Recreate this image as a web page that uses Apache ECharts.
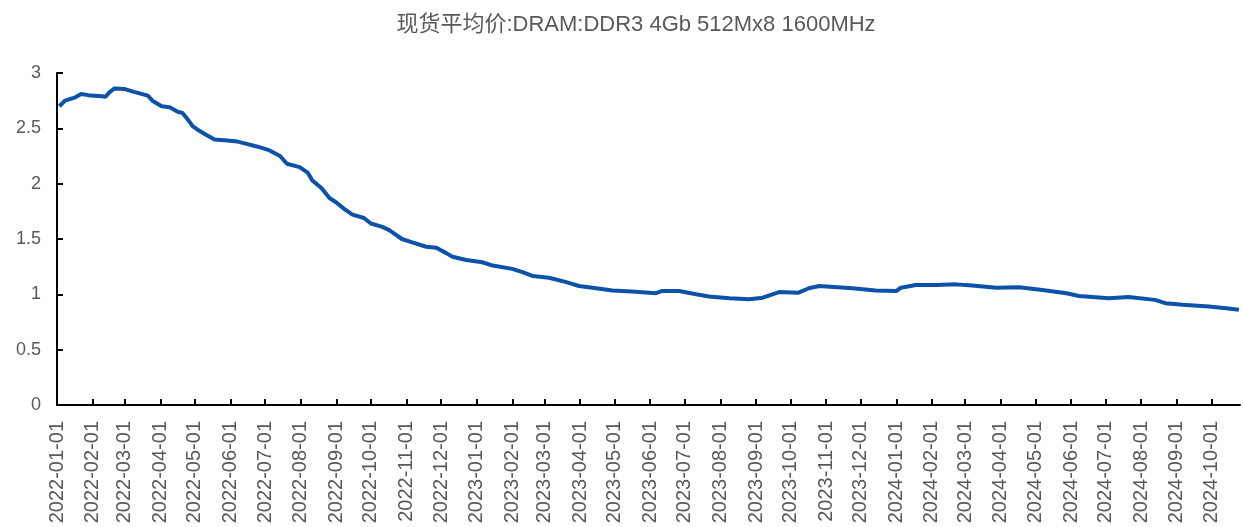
<!DOCTYPE html>
<html>
<head>
<meta charset="utf-8">
<script src="https://cdn.jsdelivr.net/npm/echarts@6/dist/echarts.min.js"></script>
<style>html,body{margin:0;padding:0;background:#fff}#c{width:1243px;height:527px}</style>
</head>
<body>
<div id="c"></div>
<script>
const titleText = '现货平均价:DRAM:DDR3 4Gb 512Mx8 1600MHz';
const dates = [
'2022-01-03','2022-01-08','2022-01-17','2022-01-22','2022-01-28','2022-02-09','2022-02-12','2022-02-16','2022-02-20','2022-03-01',
'2022-03-09','2022-03-21','2022-03-25','2022-04-02','2022-04-09','2022-04-16','2022-04-20','2022-04-24','2022-04-29','2022-05-03',
'2022-05-11','2022-05-18','2022-05-29','2022-06-07','2022-06-15','2022-06-22','2022-06-26','2022-07-05','2022-07-14','2022-07-20',
'2022-07-31','2022-08-07','2022-08-11','2022-08-19','2022-08-26','2022-09-01','2022-09-08','2022-09-15','2022-09-25','2022-10-01',
'2022-10-11','2022-10-17','2022-10-28','2022-11-06','2022-11-18','2022-11-27','2022-12-06','2022-12-11','2022-12-23','2023-01-06',
'2023-01-15','2023-02-01','2023-02-10','2023-02-19','2023-03-05','2023-03-20','2023-03-31','2023-04-15','2023-04-29','2023-05-16',
'2023-06-06','2023-06-11','2023-06-26','2023-07-11','2023-07-22','2023-08-09','2023-08-26','2023-09-07','2023-09-21','2023-10-08',
'2023-10-17','2023-10-26','2023-11-24','2023-12-14','2024-01-01','2024-01-05','2024-01-18','2024-02-05','2024-02-22','2024-03-07',
'2024-03-28','2024-04-17','2024-05-07','2024-05-28','2024-06-08','2024-07-04','2024-07-21','2024-08-13','2024-08-22','2024-09-06',
'2024-09-29','2024-10-14','2024-10-25'
];
const values = [
2.70,2.75,2.78,2.81,2.80,2.79,2.785,2.83,2.86,2.855,
2.83,2.795,2.75,2.70,2.69,2.65,2.64,2.59,2.52,2.49,
2.44,2.40,2.39,2.38,2.36,2.34,2.33,2.30,2.25,2.18,
2.15,2.10,2.03,1.96,1.87,1.83,1.77,1.72,1.69,1.64,
1.61,1.58,1.50,1.47,1.43,1.42,1.37,1.34,1.31,1.29,
1.26,1.23,1.20,1.165,1.15,1.11,1.075,1.055,1.035,1.025,
1.01,1.03,1.03,1.00,0.98,0.965,0.955,0.97,1.02,1.015,
1.055,1.075,1.055,1.035,1.03,1.06,1.085,1.085,1.09,1.08,
1.06,1.065,1.04,1.01,0.985,0.965,0.975,0.95,0.92,0.905,
0.89,0.875,0.86
];
const tickLabels = [
'2022-01-01','2022-02-01','2022-03-01','2022-04-01','2022-05-01','2022-06-01','2022-07-01','2022-08-01','2022-09-01','2022-10-01','2022-11-01','2022-12-01',
'2023-01-01','2023-02-01','2023-03-01','2023-04-01','2023-05-01','2023-06-01','2023-07-01','2023-08-01','2023-09-01','2023-10-01','2023-11-01','2023-12-01',
'2024-01-01','2024-02-01','2024-03-01','2024-04-01','2024-05-01','2024-06-01','2024-07-01','2024-08-01','2024-09-01','2024-10-01'
];
const xMin = '2022-01-01';
const xMax = '2024-10-26';

function ts(s){ const p = s.split('-').map(Number); return Date.UTC(p[0], p[1]-1, p[2]); }
function fmt(v){ const d = new Date(v); const m = d.getUTCMonth()+1, dd = d.getUTCDate();
  return d.getUTCFullYear() + '-' + (m<10?'0':'') + m + '-' + (dd<10?'0':'') + dd; }
const tickTs = tickLabels.map(ts);
const seriesData = dates.map((d,i)=>[ts(d), values[i]]);

const chart = echarts.init(document.getElementById('c'), null, {renderer:'canvas'});
chart.setOption({
  animation: false,
  backgroundColor: '#fff',
  title: {
    text: titleText, left: 631, top: 9, textAlign: 'center',
    textStyle: { fontSize: 22, fontWeight: 'normal', color: '#595959',
      fontFamily: 'Liberation Sans, Arial, Noto Sans CJK SC, sans-serif' }
  },
  grid: { left: 57, right: 3, top: 73, bottom: 122, containLabel: false },
  xAxis: {
    type: 'value', min: ts(xMin), max: ts(xMax), scale: true,
    axisLine: { show: true, lineStyle: { color: '#000', width: 2 } },
    axisTick: { show: true, inside: true, length: 6, customValues: tickTs, lineStyle: { color: '#000', width: 2 } },
    axisLabel: { customValues: tickTs, rotate: 90, margin: 16, fontSize: 20, color: '#595959',
      fontFamily: 'Liberation Sans, Arial, sans-serif', formatter: v => fmt(v), showMinLabel: true, showMaxLabel: true },
    splitLine: { show: false }
  },
  yAxis: {
    type: 'value', min: 0, max: 3, interval: 0.5,
    axisLine: { show: true, lineStyle: { color: '#000', width: 2 } },
    axisTick: { show: true, inside: true, length: 6, lineStyle: { color: '#000', width: 2 } },
    axisLabel: { fontSize: 18, color: '#595959', margin: 16, fontFamily: 'Liberation Sans, Arial, sans-serif' },
    splitLine: { show: false }
  },
  series: [{
    type: 'line', data: seriesData, showSymbol: false, symbol: 'none',
    lineStyle: { color: '#0B52A8', width: 4 }, smooth: false
  }]
});
</script>
</body>
</html>
